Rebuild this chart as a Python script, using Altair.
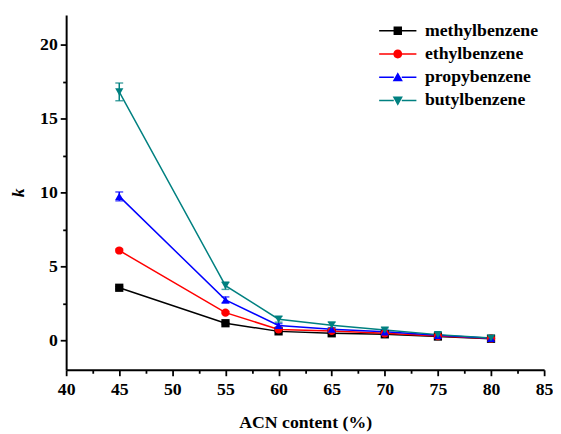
import altair as alt
import pandas as pd

# ---- data ----
acn = [45, 55, 60, 65, 70, 75, 80]
series = ["methylbenzene", "ethylbenzene", "propybenzene", "butylbenzene"]
methyl = [3.55, 1.15, 0.60, 0.47, 0.40, 0.25, 0.10]
ethyl = [6.07, 1.87, 0.73, 0.63, 0.47, 0.28, 0.12]
propyl = [9.73, 2.73, 1.00, 0.75, 0.57, 0.33, 0.13]
butyl = [16.80, 3.69, 1.42, 1.02, 0.69, 0.38, 0.15]
methyl_err = [0.08, 0.05, 0.04, 0.04, 0.03, 0.03, 0.02]
ethyl_err = [0.10, 0.08, 0.05, 0.05, 0.04, 0.03, 0.02]
propyl_err = [0.30, 0.20, 0.12, 0.10, 0.10, 0.08, 0.06]
butyl_err = [0.60, 0.25, 0.20, 0.20, 0.15, 0.15, 0.12]

colors = ["#000000", "#FF0000", "#0000FF", "#008080"]
shapes = ["square", "circle", "triangle-up", "triangle-down"]
# legend symbols: line sample + marker (unit = sqrt(size)/2 px)
seg = "M-4.2,-0.17H-0.9V0.17H-4.2Z M0.9,-0.17H4.2V0.17H0.9Z "
legend_shapes = [
    seg + "M-0.95,-0.95H0.95V0.95H-0.95Z",
    seg + "M1,0A1,1 0 1,1 -1,0A1,1 0 1,1 1,0Z",
    seg + "M0,-1.15L1.15,0.9L-1.15,0.9Z",
    seg + "M0,1.15L1.15,-0.9L-1.15,-0.9Z",
]

# major + minor tick positions
x_ticks = [40, 42.5, 45, 47.5, 50, 52.5, 55, 57.5, 60, 62.5, 65, 67.5,
           70, 72.5, 75, 77.5, 80, 82.5, 85]
y_ticks = [0, 2.5, 5, 7.5, 10, 12.5, 15, 17.5, 20]
x_domain = [40, 85]
y_domain = [-2, 22]

rows = []
for name, vals, errs in zip(series, [methyl, ethyl, propyl, butyl],
                            [methyl_err, ethyl_err, propyl_err, butyl_err]):
    for a, v, e in zip(acn, vals, errs):
        rows.append({"series": name, "acn": a, "k": v, "lo": v - e, "hi": v + e})
df = pd.DataFrame(rows)

FONT = "Liberation Serif"

xscale = alt.Scale(domain=x_domain, nice=False, zero=False)
yscale = alt.Scale(domain=y_domain, nice=False, zero=False)
cscale = alt.Scale(domain=series, range=colors)

major_test = "datum.value % 5 === 0"
tick_size = {"condition": {"test": major_test, "value": 6}, "value": 3.5}
label_expr = "datum.value % 5 === 0 ? datum.label : ''"

common_axis = dict(grid=False, domainColor="black", tickColor="black",
                   labelColor="black", titleColor="black", tickWidth=1.8,
                   domainWidth=2, labelFont=FONT, labelFontSize=18,
                   labelFontWeight="bold", titleFont=FONT, titleFontSize=18,
                   titleFontWeight="bold", labelFlush=False, format="d",
                   labelExpr=label_expr, tickSize=tick_size, labelOverlap=False)

x_main = alt.Axis(values=x_ticks, title="ACN content (%)", orient="bottom",
                  labelPadding=5, titlePadding=16, **common_axis)
y_main = alt.Axis(values=y_ticks, title="k", orient="left", titleFontStyle="italic",
                  labelPadding=3, titlePadding=12, **common_axis)

base = alt.Chart(df)
X = alt.X("acn:Q", scale=xscale, axis=x_main)
Y = alt.Y("k:Q", scale=yscale, axis=y_main)
C = alt.Color("series:N", scale=cscale, legend=None)

lines = base.mark_line(strokeWidth=1.5).encode(x=X, y=Y, color=C)
bars = base.mark_rule(strokeWidth=1.5).encode(x=X, y=alt.Y("lo:Q", scale=yscale, axis=y_main),
                                               y2="hi:Q", color=C)
cap_hi = base.mark_tick(orient="horizontal", size=8, thickness=1.5).encode(
    x=X, y=alt.Y("hi:Q", scale=yscale, axis=y_main), color=C)
cap_lo = base.mark_tick(orient="horizontal", size=8, thickness=1.5).encode(
    x=X, y=alt.Y("lo:Q", scale=yscale, axis=y_main), color=C)
points = base.mark_point(filled=True, size=70, opacity=1).encode(
    x=X, y=Y, color=C,
    shape=alt.Shape("series:N", scale=alt.Scale(domain=series, range=shapes), legend=None))

main = alt.layer(lines, bars, cap_hi, cap_lo, points)

leg = alt.Legend(title="", orient="none", legendX=327.5, legendY=7, padding=0,
                 symbolSize=81, symbolStrokeWidth=0, labelOffset=18.5,
                 labelFont=FONT, labelFontSize=18, labelFontWeight="bold",
                 labelColor="black", rowPadding=5.6, symbolOpacity=1)

legend_layer = base.transform_filter("datum.k < -100").mark_point(
    filled=True, opacity=1, size=81).encode(
    x=X, y=Y,
    color=alt.Color("series:N", scale=cscale, legend=leg),
    shape=alt.Shape("series:N", scale=alt.Scale(domain=series, range=legend_shapes), legend=leg),
)

chart = alt.layer(main, legend_layer).resolve_scale(
    color="independent", shape="independent"
).resolve_legend(
    color="independent", shape="independent"
).properties(
    width=485, height=360,
    autosize=alt.AutoSizeParams(type="none"),
    padding={"left": 59, "top": 4, "right": 9, "bottom": 60},
).configure_view(strokeWidth=0)

chart.save("out.html", embed_options={"renderer": "svg", "actions": False})
